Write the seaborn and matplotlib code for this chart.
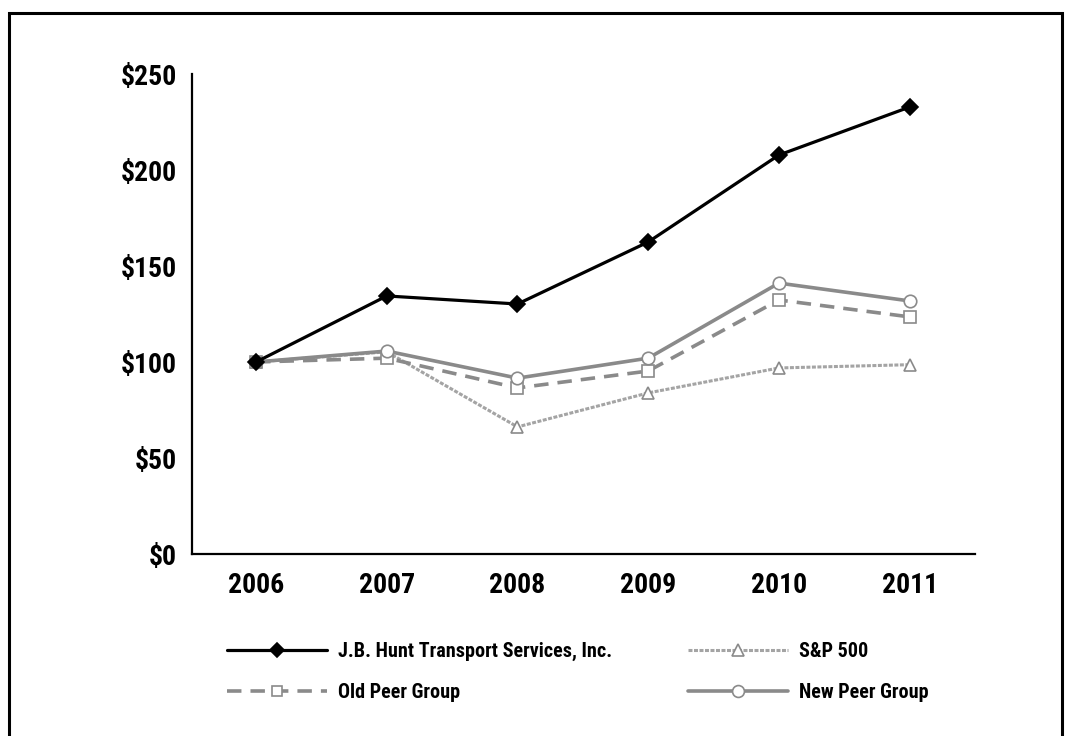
import matplotlib
matplotlib.use("Agg")
import matplotlib.pyplot as plt
import seaborn as sns
import pandas as pd
from matplotlib.patches import Rectangle
from matplotlib.ticker import FuncFormatter

years = ["2006", "2007", "2008", "2009", "2010", "2011"]
jbht = [100, 134.4, 130.2, 162.5, 207.8, 232.8]
sp500 = [100, 105.3, 66.2, 83.9, 96.9, 98.6]
old_peer = [100, 102.0, 86.5, 95.3, 132.3, 123.5]
new_peer = [100, 105.7, 91.6, 102.0, 141.1, 131.8]
yticks = [0, 50, 100, 150, 200, 250]

series_names = ["J.B. Hunt Transport Services, Inc.", "S&P 500", "Old Peer Group", "New Peer Group"]
series_vals = [jbht, sp500, old_peer, new_peer]

sns.set_theme(style="white")
plt.rcParams['font.family'] = ['Roboto Condensed', 'DejaVu Sans']
plt.rcParams['font.weight'] = 'bold'

fig = plt.figure(figsize=(10.67, 7.36), dpi=100)
ax = fig.add_axes([192/1067, 1-554/736, (975-192)/1067, (554-74)/736])

styles = {
    "J.B. Hunt Transport Services, Inc.": dict(color="black", lw=2.3, ls="-", marker="D", ms=8,
                                               mfc="black", mec="black"),
    "S&P 500": dict(color="#a4a4a4", lw=2.2, ls=(0, (1.3, 0.5)), marker="^", ms=8.5,
                    mfc="white", mec="#8a8a8a"),
    "Old Peer Group": dict(color="#8a8a8a", lw=2.6, ls=(0, (4, 2.5)), marker="s", ms=8,
                           mfc="white", mec="#8a8a8a"),
    "New Peer Group": dict(color="#8a8a8a", lw=2.6, ls="-", marker="o", ms=9,
                           mfc="white", mec="#8a8a8a"),
}
zorders = {"J.B. Hunt Transport Services, Inc.": 5, "S&P 500": 2, "Old Peer Group": 3, "New Peer Group": 4}

x = list(range(len(years)))
handles = {}
for name, vals in zip(series_names, series_vals):
    df = pd.DataFrame({"x": x, "y": vals})
    st = styles[name]
    sns.lineplot(data=df, x="x", y="y", ax=ax, color=st["color"], linewidth=st["lw"],
                 linestyle=st["ls"], marker=st["marker"], markersize=st["ms"],
                 markerfacecolor=st["mfc"], markeredgecolor=st["mec"], markeredgewidth=1.2,
                 zorder=zorders[name], legend=False)
    handles[name] = ax.lines[-1]

ax.set_xlim(-0.49, 5.5)
ax.set_ylim(0, 250)
ax.set_xticks(x)
ax.set_xticklabels(years)
ax.set_yticks(yticks)
ax.yaxis.set_major_formatter(FuncFormatter(lambda v, p: f"${int(v)}"))
ax.set_xlabel("")
ax.set_ylabel("")
for s in ["top", "right"]:
    ax.spines[s].set_visible(False)
for s in ["left", "bottom"]:
    ax.spines[s].set_color("black")
    ax.spines[s].set_linewidth(1.6)
ax.tick_params(axis="both", direction="in", length=8, width=1.6, color="black",
               labelsize=20, labelcolor="black")
ax.tick_params(axis="y", pad=11)
ax.tick_params(axis="x", pad=13)
for lab in ax.get_xticklabels() + ax.get_yticklabels():
    lab.set_fontweight("bold")

legend_kw = dict(loc="upper left", frameon=False, prop=dict(weight="bold", size=14.5),
                 handlelength=4.97, handletextpad=0.55, labelspacing=1.07,
                 borderpad=0, borderaxespad=0, markerscale=0.95)
col1 = ["J.B. Hunt Transport Services, Inc.", "Old Peer Group"]
col2 = ["S&P 500", "New Peer Group"]
leg1 = fig.legend([handles[n] for n in col1], col1, bbox_to_anchor=(227/1067, 1-642/736), **legend_kw)
leg2 = fig.legend([handles[n] for n in col2], col2, bbox_to_anchor=(688/1067, 1-642/736), **legend_kw)
for lg in (leg1, leg2):
    for t in lg.get_texts():
        t.set_color("black")

fig.patches.append(Rectangle((8.5/1067, -0.05), (1062-8.5)/1067, 1.05 - 13/736,
                             transform=fig.transFigure, fill=False, edgecolor="black",
                             linewidth=2.2, zorder=10))

fig.savefig("out.png", dpi=100)
